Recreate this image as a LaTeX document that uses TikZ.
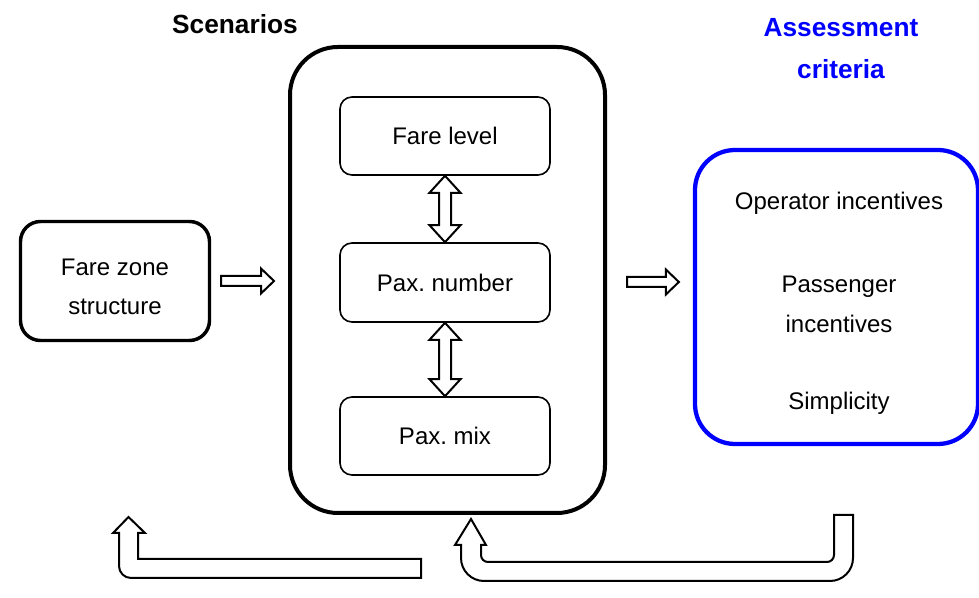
\documentclass[tikz,border=0pt]{standalone}
\usepackage{fontspec}
\setmainfont{Liberation Sans}
\usetikzlibrary{calc}
\frenchspacing

\definecolor{critblue}{RGB}{0,0,255}

% vertical double block arrow between two tips (upper, lower)
\newcommand\blockdarrow[2]{%
  \draw[blockarrow] (#1) -- ($(#1)+(15.5,17)$) -- ($(#1)+(6,17)$)
    -- ($(#2)+(6,-17)$) -- ($(#2)+(15.5,-17)$) -- (#2)
    -- ($(#2)+(-15.5,-17)$) -- ($(#2)+(-6,-17)$)
    -- ($(#1)+(-6,17)$) -- ($(#1)+(-15.5,17)$) -- cycle;}

% horizontal block arrow from tail to tip
\newcommand\blockrarrow[2]{%
  \draw[blockarrow] (#1) ++(0,-5) -- ($(#2)+(-13,-5)$) -- ($(#2)+(-13,-12.5)$)
    -- (#2) -- ($(#2)+(-13,12.5)$) -- ($(#2)+(-13,5)$)
    -- ($(#1)+(0,5)$) -- cycle;}

\tikzset{
  boxtext/.style={font=\fontsize{18}{29}\selectfont, align=center},
  titletext/.style={font=\fontsize{19.7}{31.5}\selectfont\bfseries, align=center},
  outerbox/.style={draw, line width=3pt, rounded corners=48*0.75pt},
  sidebox/.style={draw, line width=2.6pt, rounded corners=20*0.75pt},
  innerbox/.style={draw, line width=1.2pt, rounded corners=12*0.75pt,
    minimum width=210*0.75pt, minimum height=78*0.75pt, boxtext},
  critbox/.style={draw=critblue, line width=3.2pt, rounded corners=40*0.75pt},
  blockarrow/.style={draw, fill=white, line width=1.5pt, line join=miter},
}

\begin{document}
\begin{tikzpicture}[x=0.75pt, y=-0.75pt]
\useasboundingbox (0,0) rectangle (979,598);

% titles
\node[titletext] (scen) at (235,24) {Scenarios};
\node[titletext, text=critblue] (crit) at (841,49) {Assessment\\criteria};

% left input box
\node[sidebox, minimum width=189*0.75pt, minimum height=119*0.75pt]
  (fz) at (115,281) {};
\node[boxtext] (fzt) at (115,287) {Fare zone\\structure};

% scenario container and its three components
\node[outerbox, minimum width=315*0.75pt, minimum height=466*0.75pt]
  (sc) at (447.5,280) {};
\node[innerbox] (fl) at (445,136) {Fare level};
\node[innerbox, minimum height=79*0.75pt] (pn) at (445,282.5) {Pax. number};
\node[innerbox] (pm) at (445,436) {Pax. mix};

% assessment criteria box
\node[critbox, minimum width=283*0.75pt, minimum height=294*0.75pt]
  (cr) at (836.5,297) {};
\node[boxtext] (op) at (839,203) {Operator incentives};
\node[boxtext, font=\fontsize{18}{30}\selectfont] (pi) at (839,304) {Passenger\\incentives};
\node[boxtext] (si) at (839,403) {Simplicity};

% links between scenario components
\blockdarrow{fl.south}{pn.north}
\blockdarrow{pn.south}{pm.north}

% forward arrows
\coordinate (a1s) at ($(fz.east)+(10,0)$);
\coordinate (a1e) at ($(sc.west |- a1s)+(-14,0)$);
\blockrarrow{a1s}{a1e}
\coordinate (a2s) at ($(sc.east)+(20,2)$);
\coordinate (a2e) at ($(cr.west |- a2s)+(-14,0)$);
\blockrarrow{a2s}{a2e}

% feedback arrows
\coordinate (fbtip) at (128.5,517);
\draw[blockarrow, shift={(fbtip)}] (0,0) -- (16.5,16) -- (9.5,16) -- (9.5,42)
  -- (292.5,42) -- (292.5,61) -- (2.5,61)
  .. controls (-4.1,61) and (-9.5,55.6) .. (-9.5,49)
  -- (-9.5,16) -- (-15.5,16) -- cycle;

\coordinate (sctip) at ($(sc.south)+(23.5,4)$);
\draw[blockarrow, shift={(sctip)}] (0,0) -- (15,26) -- (10,26) -- (10,36)
  .. controls (10,39.9) and (13.1,43) .. (17,43)
  -- (356,43) .. controls (359.9,43) and (363,39.9) .. (363,36)
  -- (363,-4) -- (382,-4) -- (382,39)
  .. controls (382,51.7) and (371.7,62) .. (359,62)
  -- (13,62) .. controls (0.3,62) and (-10,51.7) .. (-10,39)
  -- (-10,26) -- (-16,26) -- cycle;
\end{tikzpicture}
\end{document}
